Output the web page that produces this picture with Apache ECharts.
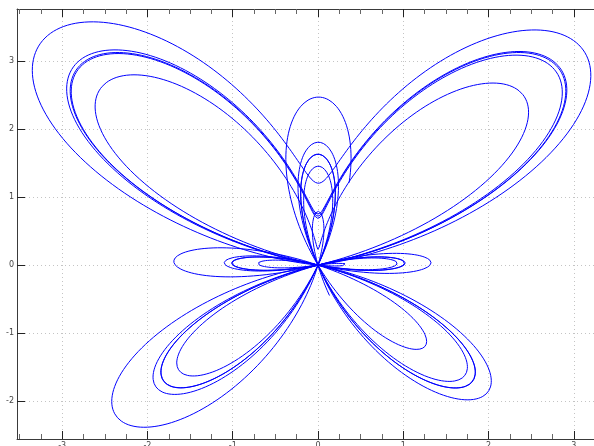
<!DOCTYPE html>
<html>
<head>
<meta charset="utf-8">
<script src="https://cdn.jsdelivr.net/npm/echarts@6/dist/echarts.min.js"></script>
<style>
  html, body { margin: 0; padding: 0; overflow: hidden; background: #fff; }
  #chart { width: 620px; height: 446px; }
</style>
</head>
<body>
<div id="chart"></div>
<script>
// Fay's butterfly curve, r = e^cos(t) - 2cos(4t) - sin^5(t/12), t from -16 to 16
const tRange = [-16, 16];
const tSteps = 3200;
const xRange = [-3.53, 3.53];
const yRange = [-2.56, 3.77];
const xTicks = [-3, -2, -1, 0, 1, 2, 3];
const xMinorTicks = [-3.5, -3.25, -2.75, -2.5, -2.25, -1.75, -1.5, -1.25, -0.75, -0.5, -0.25,
  0.25, 0.5, 0.75, 1.25, 1.5, 1.75, 2.25, 2.5, 2.75, 3.25, 3.5];
const yTicks = [-2, -1, 0, 1, 2, 3];

let curve = [];
for (let i = 0; i <= tSteps; i++) {
  const t = tRange[0] + (tRange[1] - tRange[0]) * i / tSteps;
  const r = Math.exp(Math.cos(t)) - 2 * Math.cos(4 * t) - Math.pow(Math.sin(t / 12), 5);
  curve.push([Math.sin(t) * r, Math.cos(t) * r]);
}

const frameColor = "#3a3a3a";
const gridLine = { show: true, lineStyle: { color: "#c4c4c4", type: [1, 3], width: 1 } };

function axis(pos, range, ticks, len, withLabels, withSplit, showLine) {
  return {
    type: "value",
    position: pos,
    min: range[0],
    max: range[1],
    axisLine: { show: showLine, onZero: false, lineStyle: { color: frameColor, width: 1 } },
    axisTick: { show: true, inside: true, length: len, customValues: ticks,
      lineStyle: { color: len > 5 ? "#222" : "#666", width: 1 } },
    axisLabel: withLabels
      ? { show: true, customValues: ticks, color: "#444", fontSize: 8, margin: 3,
          fontFamily: "DejaVu Sans" }
      : { show: false },
    splitLine: withSplit ? gridLine : { show: false },
    minorTick: { show: false },
  };
}

const chart = echarts.init(document.getElementById("chart"));
chart.setOption({
  animation: false,
  grid: { left: 17, right: 1, top: 9, bottom: 7, containLabel: false, outerBoundsMode: "none" },
  xAxis: [
    axis("bottom", xRange, xTicks, 8, true, true, true),
    axis("bottom", xRange, xMinorTicks, 5, false, false, false),
    axis("top", xRange, xTicks, 8, false, false, true),
    axis("top", xRange, xMinorTicks, 5, false, false, false),
  ],
  yAxis: [
    axis("left", yRange, yTicks, 8, true, true, true),
    axis("right", yRange, yTicks, 8, false, false, true),
  ],
  series: [
    {
      type: "line",
      xAxisIndex: 0,
      yAxisIndex: 0,
      data: curve,
      showSymbol: false,
      smooth: false,
      lineStyle: { color: "#0000ff", width: 1 },
    },
  ],
});
</script>
</body>
</html>
